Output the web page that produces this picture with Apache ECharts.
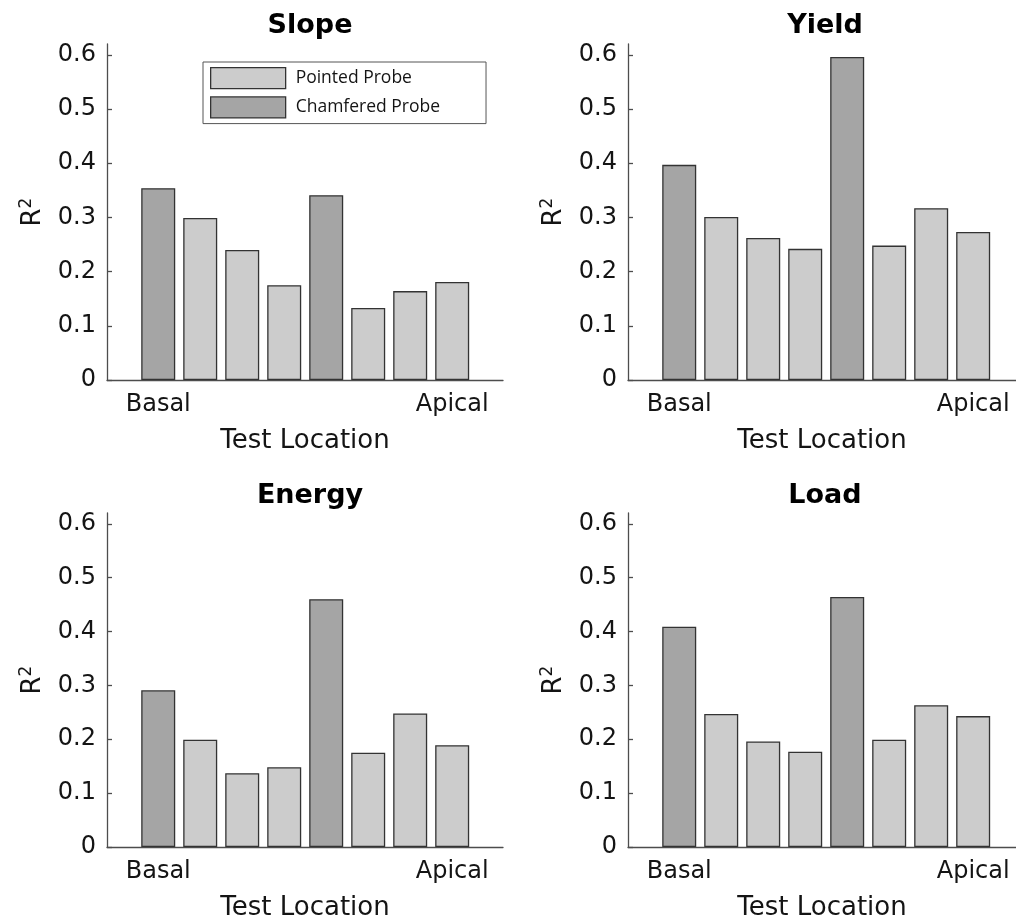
<!DOCTYPE html>
<html><head><meta charset="utf-8">
<script src="https://cdn.jsdelivr.net/npm/echarts@6/dist/echarts.min.js"></script>
<style>html,body{margin:0;padding:0;background:#fff}#c{width:1016px;height:922px}</style>
</head><body><div id="c"></div>
<script>
// ---- data ----
const panelTitles = ['Slope', 'Yield', 'Energy', 'Load'];
const locations = [1, 2, 3, 4, 5, 6, 7, 8];
const probeType = ['Chamfered', 'Pointed', 'Pointed', 'Pointed', 'Chamfered', 'Pointed', 'Pointed', 'Pointed'];
const slopeR2  = [0.354, 0.299, 0.240, 0.175, 0.341, 0.133, 0.164, 0.181];
const yieldR2  = [0.397, 0.301, 0.262, 0.242, 0.596, 0.248, 0.317, 0.273];
const energyR2 = [0.291, 0.199, 0.137, 0.148, 0.460, 0.175, 0.248, 0.189];
const loadR2   = [0.409, 0.247, 0.196, 0.177, 0.464, 0.199, 0.263, 0.243];
const yTicks = [0, 0.1, 0.2, 0.3, 0.4, 0.5, 0.6];
const xTickPositions = [1, 8];
const xTickLabels = ['Basal', 'Apical'];
const seriesNames = ['Pointed Probe', 'Chamfered Probe'];

// ---- layout / style ----
const panelValues = [slopeR2, yieldR2, energyR2, loadR2];
const layout = [
  {left: 107, top: 44,  width: 396, height: 336, xMax: 9.21},
  {left: 628, top: 44,  width: 388, height: 336, xMax: 9.02},
  {left: 107, top: 513, width: 396, height: 336, xMax: 9.21},
  {left: 628, top: 513, width: 388, height: 336, xMax: 9.02}
];
const FONT = 'DejaVu Sans';
const AX = '#4d4d4d';
const fills = {'Pointed Probe': '#cccccc', 'Chamfered Probe': '#a5a5a5'};

const grid = [], xAxis = [], yAxis = [], series = [], title = [];
layout.forEach((L, i) => {
  grid.push({left: L.left, top: L.top, width: L.width, height: L.height, containLabel: false});
  xAxis.push({
    type: 'value', gridIndex: i, min: -0.22, max: L.xMax,
    axisLine: {show: true, onZero: false, lineStyle: {color: AX, width: 1.3}},
    axisTick: {show: false},
    splitLine: {show: false},
    axisLabel: {
      customValues: xTickPositions, margin: 13,
      fontFamily: FONT, fontSize: 24, color: '#141414',
      formatter: v => { const k = xTickPositions.indexOf(v); return k >= 0 ? xTickLabels[k] : ''; }
    },
    name: 'Test Location', nameLocation: 'middle', nameGap: 48,
    nameTextStyle: {fontFamily: FONT, fontSize: 26, color: '#141414'}
  });
  yAxis.push({
    type: 'value', gridIndex: i, min: 0, max: 0.62,
    axisLine: {show: true, onZero: false, lineStyle: {color: AX, width: 1.3}},
    axisTick: {show: true, inside: true, length: 5, customValues: yTicks, lineStyle: {color: AX, width: 1.3}},
    splitLine: {show: false},
    axisLabel: {customValues: yTicks, margin: 11, fontFamily: FONT, fontSize: 24, color: '#141414'},
    name: 'R{s|2}', nameLocation: 'middle', nameGap: 59, nameRotate: 90,
    nameTextStyle: {
      fontFamily: FONT, fontSize: 26, color: '#141414',
      rich: {s: {fontFamily: FONT, fontSize: 17, color: '#141414', verticalAlign: 'top', lineHeight: 30}}
    }
  });
  title.push({
    text: panelTitles[i], left: L.left + L.width / 2 - (i % 2 ? 2 : 0), top: i < 2 ? 7 : 477, textAlign: 'center',
    textStyle: {fontFamily: FONT, fontSize: 27, fontWeight: 'bold', color: '#000'}
  });
  seriesNames.forEach(name => {
    const key = name.split(' ')[0];
    const data = [];
    locations.forEach((x, j) => { if (probeType[j] === key) data.push([x, panelValues[i][j]]); });
    series.push({
      type: 'bar', name: name, xAxisIndex: i, yAxisIndex: i,
      data: data, barWidth: 34, barGap: '-100%',
      itemStyle: {color: fills[name], borderColor: '#333333', borderWidth: 1.3},
      emphasis: {disabled: true}, animation: false
    });
  });
});

const chart = echarts.init(document.getElementById('c'), null, {renderer: 'canvas'});
chart.setOption({
  animation: false,
  backgroundColor: '#ffffff',
  title: title,
  grid: grid, xAxis: xAxis, yAxis: yAxis, series: series,
  legend: {
    data: seriesNames, orient: 'vertical', left: 203, top: 62,
    icon: 'rect', itemWidth: 75, itemHeight: 21, itemGap: 7,
    padding: [5, 46, 5, 7],
    borderColor: '#555555', borderWidth: 1, backgroundColor: '#ffffff',
    itemStyle: {borderColor: '#333333', borderWidth: 1.3},
    textStyle: {fontFamily: 'Open Sans', fontSize: 17.5, color: '#141414', padding: [0, 0, 0, 5]},
    selectedMode: false
  }
});
</script>
</body></html>
